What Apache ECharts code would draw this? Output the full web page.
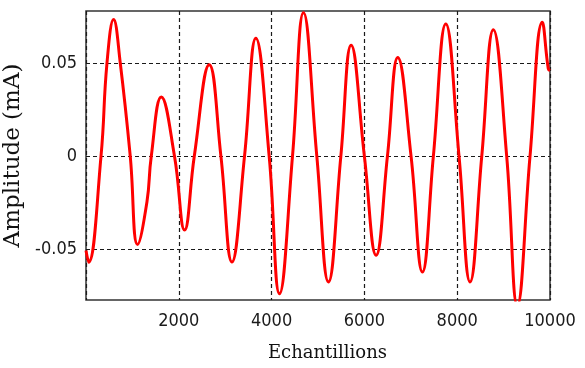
<!DOCTYPE html>
<html>
<head>
<meta charset="utf-8">
<script src="https://cdn.jsdelivr.net/npm/echarts@6/dist/echarts.min.js"></script>
<style>html,body{margin:0;padding:0;background:#fff;}#c{width:585px;height:368px;}</style>
</head>
<body>
<div id="c"></div>
<script>
// Sample index (x) and amplitude in mA (y)
const samples = [0, 56, 323, 452, 594, 739, 954, 1111, 1314, 1406, 1622, 1908, 2124, 2333, 2656, 2908, 3145, 3416, 3661, 3948, 4170, 4450, 4687, 4975, 5225, 5492, 5714, 6000, 6252, 6496, 6720, 7006, 7250, 7486, 7754, 8040, 8277, 8529, 8779, 9067, 9296, 9569, 9834, 9963, 10000];
const amplitude = [-0.0505, -0.0567, 0, 0.05, 0.0734, 0.05, 0, -0.0472, -0.0243, 0, 0.0319, 0, -0.0395, 0, 0.0492, 0, -0.0566, 0, 0.0634, 0, -0.0736, 0, 0.077, 0, -0.0673, 0, 0.0596, 0, -0.053, 0, 0.0531, 0, -0.062, 0, 0.071, 0, -0.0673, 0, 0.068, 0, -0.08, 0, 0.0719, 0.047, 0.046];
const xTicks = [2000, 4000, 6000, 8000, 10000];
const yTicks = [-0.05, 0, 0.05];
const yTickLabels = ['-0.05', '0', '0.05'];
const xName = 'Echantillions';
const yName = 'Amplitude (mA)';

const chart = echarts.init(document.getElementById('c'), null, {renderer: 'canvas'});
const labelFont = "'DejaVu Sans Condensed', 'Liberation Sans', sans-serif";
const gridLine = {show: true, lineStyle: {color: '#1a1a1a', type: [4, 3], width: 1.2}};
chart.setOption({
  animation: false,
  backgroundColor: '#ffffff',
  grid: {left: 86, right: 35, top: 11, bottom: 68, containLabel: false, outerBoundsMode: 'none',
    show: true, borderColor: '#333', borderWidth: 1.5, backgroundColor: 'transparent'},
  xAxis: {
    type: 'value', min: 0, max: 10000, interval: 2000,
    name: xName, nameLocation: 'middle', nameGap: 44,
    nameTextStyle: {fontFamily: "'DejaVu Serif', serif", fontSize: 18, color: '#111', padding: [0, 0, 0, 19]},
    axisLine: {show: false},
    axisTick: {show: false},
    axisLabel: {showMinLabel: false, margin: 12, fontFamily: labelFont, fontSize: 18, color: '#1a1a1a',
      formatter: v => xTicks.indexOf(v) >= 0 ? String(v) : ''},
    splitLine: gridLine
  },
  yAxis: {
    type: 'value', min: -0.077, max: 0.078,
    name: yName, nameLocation: 'middle', nameGap: 47, nameRotate: 90,
    nameTextStyle: {fontFamily: "'DejaVu Serif', serif", fontSize: 23, color: '#111'},
    axisLine: {show: false},
    axisTick: {show: false, customValues: yTicks},
    axisLabel: {margin: 9, fontFamily: labelFont, fontSize: 18, color: '#1a1a1a', customValues: yTicks,
      formatter: v => { const i = yTicks.findIndex(t => Math.abs(t - v) < 1e-9); return i >= 0 ? yTickLabels[i] : ''; }},
    splitLine: gridLine
  },
  series: [{
    type: 'line',
    data: samples.map((s, i) => [s, amplitude[i]]),
    showSymbol: false,
    smooth: 0.45,
    clip: true,
    lineStyle: {color: '#ff0000', width: 3},
    itemStyle: {color: '#ff0000'}
  }]
});
</script>
</body>
</html>
